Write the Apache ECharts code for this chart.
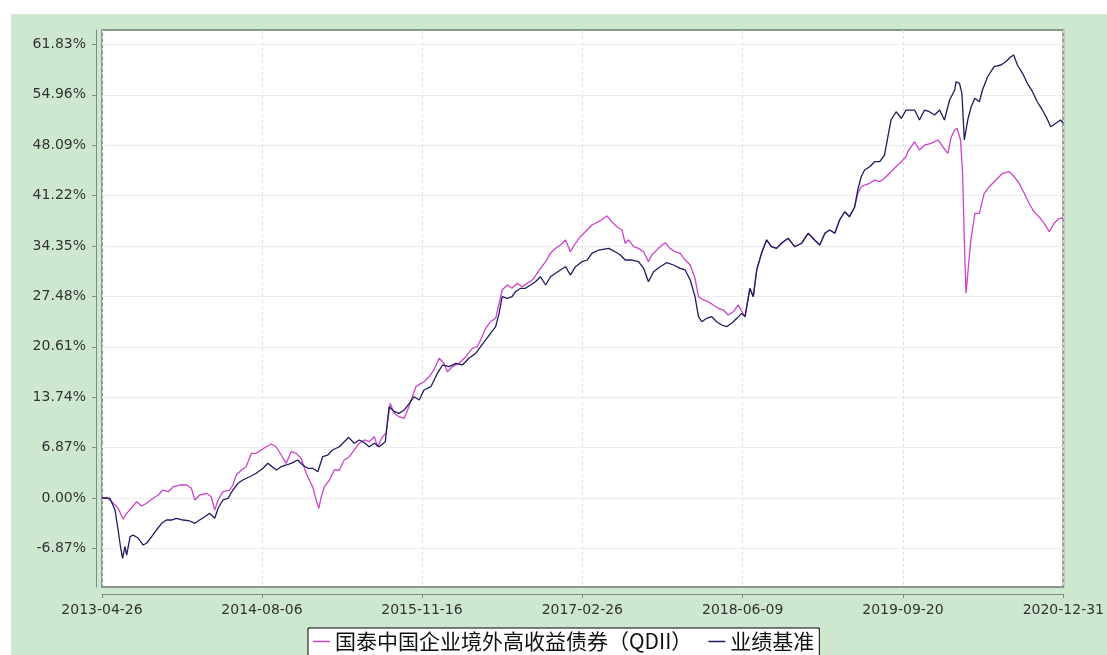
<!DOCTYPE html>
<html>
<head>
<meta charset="utf-8">
<script src="https://cdn.jsdelivr.net/npm/echarts@6/dist/echarts.min.js"></script>
<style>
  html, body { margin: 0; padding: 0; background: #fff; }
  #bg { position: absolute; left: 11px; top: 14px; width: 1096px; height: 641px; background: #cde8cf; }
  #main { position: absolute; left: 0; top: 0; width: 1107px; height: 655px; }
</style>
</head>
<body>
<div id="bg"></div>
<div id="main"></div>
<script>
// days since 2013-04-26 and cumulative return (%)
const fundName = '国泰中国企业境外高收益债券（QDII）';
const benchName = '业绩基准';
const startDate = '2013-04-26';

const xTickLabels = ['2013-04-26', '2014-08-06', '2015-11-16', '2017-02-26', '2018-06-09', '2019-09-20', '2020-12-31'];
const yTickValues = [-6.87, 0, 6.87, 13.74, 20.61, 27.48, 34.35, 41.22, 48.09, 54.96, 61.83];

const fundDays = [0, 14, 33, 47, 62, 72, 86, 101, 116, 130, 149, 164, 178, 193, 208, 227, 247, 261, 271, 285,
  305, 319, 329, 339, 353, 373, 382, 392, 407, 421, 436, 450, 465, 479, 494, 508, 523, 538, 552, 567,
  581, 596, 605, 615, 625, 633, 640, 649, 664, 678, 693, 707, 722, 736, 751, 766, 780, 795, 804, 819,
  829, 841, 853, 867, 882, 892, 906, 916, 931, 940, 955, 969, 984, 998, 1008, 1023, 1042, 1062, 1081, 1095,
  1105, 1120, 1134, 1149, 1159, 1168, 1183, 1197, 1212, 1226, 1241, 1256, 1270, 1280, 1295, 1309, 1324, 1338, 1353, 1367,
  1382, 1396, 1416, 1430, 1450, 1474, 1488, 1503, 1518, 1527, 1537, 1552, 1566, 1581, 1595, 1605, 1624, 1644, 1658, 1673,
  1688, 1702, 1717, 1731, 1741, 1755, 1770, 1784, 1799, 1814, 1828, 1843, 1857, 1877, 1891, 1901, 1911, 1925, 1940, 1954,
  1969, 1983, 2003, 2022, 2042, 2061, 2080, 2095, 2110, 2124, 2139, 2153, 2168, 2182, 2197, 2206, 2216, 2226, 2241, 2255,
  2270, 2284, 2299, 2313, 2333, 2347, 2352, 2372, 2386, 2401, 2420, 2440, 2454, 2469, 2479, 2489, 2496, 2506, 2512, 2517,
  2522, 2529, 2536, 2548, 2561, 2575, 2590, 2609, 2629, 2648, 2663, 2677, 2692, 2706, 2721, 2735, 2750, 2765, 2779, 2794, 2806];
const fundValues = [0.00, 0.10, -0.72, -1.40, -2.90, -2.09, -1.36, -0.50, -1.09, -0.72, -0.04, 0.41, 1.09, 0.86, 1.54, 1.77, 1.77, 1.32, -0.27, 0.41,
  0.64, 0.18, -1.64, -0.27, 0.86, 1.09, 1.77, 3.13, 3.82, 4.27, 6.09, 6.09, 6.54, 6.99, 7.36, 6.99, 5.86, 4.73, 6.31, 6.09,
  5.41, 3.37, 2.45, 1.54, -0.27, -1.40, 0.18, 1.54, 2.45, 3.82, 3.82, 5.18, 5.63, 6.54, 7.46, 7.91, 7.67, 8.36, 6.99, 8.36,
  8.82, 12.91, 11.54, 11.08, 10.86, 11.99, 13.81, 15.17, 15.63, 15.85, 16.53, 17.45, 19.04, 18.36, 17.21, 17.90, 18.36, 19.26, 20.40, 20.62,
  21.54, 23.13, 24.03, 24.49, 26.54, 28.35, 29.03, 28.58, 29.26, 28.80, 29.26, 29.71, 30.63, 31.31, 32.21, 33.35, 34.03, 34.48, 35.17, 33.57,
  34.72, 35.62, 36.53, 37.21, 37.66, 38.44, 37.66, 36.98, 36.53, 34.72, 35.17, 34.25, 34.03, 33.57, 32.21, 33.12, 34.03, 34.80, 34.03, 33.57,
  33.35, 32.44, 31.76, 29.95, 27.44, 26.99, 26.76, 26.31, 25.86, 25.62, 24.94, 25.39, 26.31, 24.71, 28.58, 27.44, 31.08, 33.35, 35.17, 34.25,
  34.03, 34.72, 35.40, 34.25, 34.72, 36.08, 35.17, 34.48, 36.08, 36.53, 36.08, 37.89, 39.02, 38.34, 39.70, 41.50, 42.40, 42.66, 42.89, 43.34,
  43.11, 43.58, 44.26, 44.94, 45.84, 46.52, 47.20, 48.56, 47.43, 48.11, 48.34, 48.80, 47.88, 46.98, 49.25, 50.16, 50.39, 48.80, 44.26, 35.17,
  27.90, 31.53, 35.17, 38.80, 38.80, 41.53, 42.43, 43.34, 44.26, 44.48, 43.79, 42.89, 41.53, 40.17, 38.97, 38.34, 37.44, 36.30, 37.44, 38.12, 38.12];

const benchDays = [0, 23, 38, 47, 54, 60, 67, 72, 82, 91, 106, 120, 130, 145, 159, 174, 188, 203, 217, 237,
  256, 271, 285, 300, 314, 329, 339, 353, 368, 382, 397, 411, 431, 450, 470, 484, 509, 523, 538, 552,
  571, 586, 601, 615, 630, 644, 659, 673, 693, 707, 720, 736, 751, 766, 780, 795, 809, 827, 838, 853,
  867, 882, 897, 911, 926, 940, 960, 979, 994, 1013, 1033, 1052, 1071, 1091, 1105, 1120, 1134, 1149, 1159, 1168,
  1183, 1197, 1207, 1222, 1236, 1251, 1265, 1280, 1295, 1309, 1324, 1338, 1353, 1367, 1382, 1401, 1416, 1430, 1450, 1479,
  1498, 1513, 1527, 1547, 1566, 1581, 1595, 1610, 1629, 1648, 1668, 1688, 1702, 1717, 1731, 1741, 1751, 1765, 1780, 1794,
  1809, 1823, 1838, 1853, 1867, 1877, 1891, 1901, 1911, 1925, 1940, 1954, 1969, 1983, 2003, 2022, 2042, 2061, 2080, 2095,
  2110, 2124, 2139, 2153, 2168, 2182, 2197, 2206, 2216, 2226, 2241, 2255, 2270, 2284, 2294, 2303, 2318, 2333, 2347, 2372,
  2386, 2401, 2415, 2430, 2445, 2459, 2474, 2489, 2493, 2503, 2510, 2517, 2527, 2537, 2548, 2561, 2570, 2585, 2604, 2624,
  2638, 2653, 2661, 2672, 2687, 2701, 2716, 2730, 2745, 2758, 2769, 2784, 2798, 2806];
const benchValues = [0.00, -0.04, -1.64, -4.36, -6.64, -8.22, -6.64, -7.77, -5.27, -5.04, -5.49, -6.41, -6.17, -5.27, -4.36, -3.45, -3.00, -3.00, -2.77, -3.00,
  -3.13, -3.45, -3.00, -2.55, -2.09, -2.77, -1.40, -0.27, -0.04, 1.09, 2.00, 2.45, 2.90, 3.37, 4.05, 4.73, 3.82, 4.27, 4.50, 4.73,
  5.18, 4.50, 4.05, 4.05, 3.58, 5.63, 5.86, 6.54, 6.99, 7.67, 8.27, 7.46, 7.91, 7.54, 6.99, 7.46, 6.99, 7.67, 12.44, 11.76,
  11.54, 11.99, 12.91, 13.81, 13.36, 14.72, 15.17, 17.00, 18.13, 17.90, 18.36, 18.13, 19.04, 19.72, 20.62, 21.54, 22.45, 23.35, 25.17, 27.44,
  27.22, 27.44, 28.12, 28.58, 28.58, 29.03, 29.48, 30.16, 29.03, 30.16, 30.63, 31.08, 31.53, 30.39, 31.53, 32.21, 32.44, 33.35, 33.80, 34.03,
  33.57, 33.12, 32.44, 32.44, 32.21, 31.31, 29.48, 30.84, 31.53, 32.07, 31.76, 31.31, 31.08, 29.71, 27.44, 24.71, 24.03, 24.49, 24.71, 24.03,
  23.58, 23.35, 23.81, 24.49, 25.17, 24.71, 28.58, 27.44, 31.08, 33.35, 35.17, 34.25, 34.03, 34.72, 35.40, 34.25, 34.72, 36.08, 35.17, 34.48,
  36.08, 36.53, 36.08, 37.89, 39.02, 38.34, 39.70, 41.98, 43.79, 44.71, 45.16, 45.84, 45.84, 46.75, 49.25, 51.52, 52.65, 51.75, 52.88, 52.88,
  51.52, 52.88, 52.65, 52.20, 52.88, 51.52, 54.25, 55.61, 56.74, 56.52, 55.16, 48.80, 51.52, 53.33, 54.48, 54.01, 55.61, 57.42, 58.79, 59.02,
  59.47, 60.15, 60.38, 59.02, 57.89, 56.52, 55.38, 54.01, 52.88, 51.75, 50.61, 51.07, 51.52, 51.07];

const DAY = 86400000;
const t0 = +echarts.number.parseDate(startDate);
const toPoints = (days, vals) => days.map((d, i) => [t0 + d * DAY, vals[i]]);
const xTickTimes = xTickLabels.map(s => +echarts.number.parseDate(s));

const labelFont = { color: '#333', fontSize: 14, fontFamily: 'DejaVu Sans' };
const axisGray = '#7d8a7e';

let chart = echarts.init(document.getElementById('main'), null, { renderer: 'canvas' });
chart.setOption({
  animation: false,
  backgroundColor: 'transparent',
  grid: {
    left: 102, top: 30, right: 41, bottom: 68,
    show: true,
    backgroundColor: '#fff',
    borderColor: '#8a978b',
    borderWidth: 2
  },
  legend: {
    left: 308, top: 628,
    backgroundColor: '#fff',
    borderColor: '#000',
    borderWidth: 1,
    borderRadius: 0,
    padding: [3, 5, 12, 5],
    itemGap: 16,
    itemWidth: 17,
    itemHeight: 1.5,
    icon: 'rect',
    textStyle: { color: '#111', fontSize: 21, fontFamily: 'Noto Sans CJK SC' },
    data: [fundName, benchName]
  },
  xAxis: {
    type: 'value',
    min: t0,
    max: xTickTimes[xTickTimes.length - 1],
    offset: 7,
    axisLine: { onZero: false, lineStyle: { color: axisGray, width: 1 } },
    axisTick: { show: true, length: 4, customValues: xTickTimes, lineStyle: { color: axisGray } },
    axisLabel: {
      ...labelFont,
      margin: 9,
      customValues: xTickTimes,
      formatter: v => xTickLabels[xTickTimes.indexOf(v)] || ''
    },
    splitLine: { show: true, lineStyle: { color: '#dcdcdc', type: [3, 3], width: 1 } }
  },
  yAxis: {
    type: 'value',
    min: -12.13,
    max: 63.79,
    offset: 6,
    axisLine: { show: true, onZero: false, lineStyle: { color: axisGray, width: 1 } },
    axisTick: { show: true, length: 4, customValues: yTickValues, lineStyle: { color: axisGray } },
    axisLabel: {
      ...labelFont,
      margin: 10,
      customValues: yTickValues,
      formatter: v => v.toFixed(2) + '%'
    },
    splitLine: { show: true, lineStyle: { color: '#ececec', width: 1 } }
  },
  series: [
    {
      name: fundName,
      type: 'line',
      data: toPoints(fundDays, fundValues),
      showSymbol: false,
      color: '#cc44cc',
      lineStyle: { width: 1.3 }
    },
    {
      name: benchName,
      type: 'line',
      data: toPoints(benchDays, benchValues),
      showSymbol: false,
      color: '#1c1c5e',
      lineStyle: { width: 1.3 }
    }
  ]
});
</script>
</body>
</html>
